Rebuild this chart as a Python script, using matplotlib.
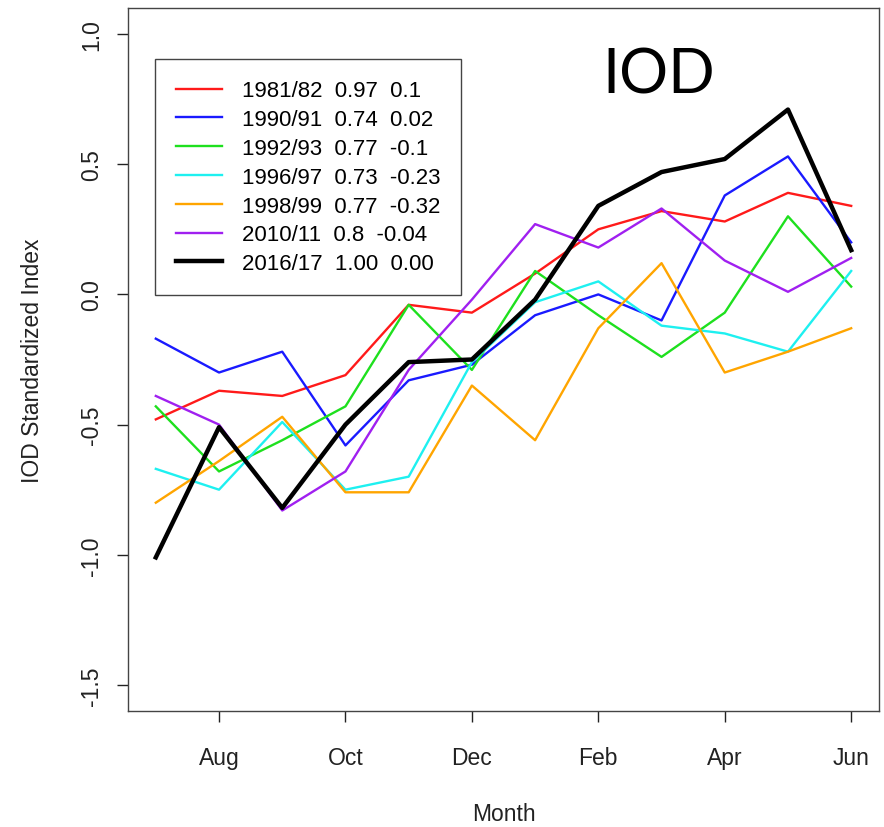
import matplotlib
matplotlib.use("Agg")
import matplotlib.pyplot as plt
import numpy as np

months = ["Jul", "Aug", "Sep", "Oct", "Nov", "Dec",
          "Jan", "Feb", "Mar", "Apr", "May", "Jun"]
tick_months = ["Aug", "Oct", "Dec", "Feb", "Apr", "Jun"]
y_ticks = [-1.5, -1.0, -0.5, 0.0, 0.5, 1.0]

labels = ["1981/82  0.97  0.1", "1990/91  0.74  0.02", "1992/93  0.77  -0.1",
          "1996/97  0.73  -0.23", "1998/99  0.77  -0.32", "2010/11  0.8  -0.04",
          "2016/17  1.00  0.00"]

iod_8182 = [-0.48, -0.37, -0.39, -0.31, -0.04, -0.07, 0.08, 0.25, 0.32, 0.28, 0.39, 0.34]
iod_9091 = [-0.17, -0.30, -0.22, -0.58, -0.33, -0.27, -0.08, 0.00, -0.10, 0.38, 0.53, 0.20]
iod_9293 = [-0.43, -0.68, -0.56, -0.43, -0.04, -0.29, 0.09, -0.08, -0.24, -0.07, 0.30, 0.03]
iod_9697 = [-0.67, -0.75, -0.49, -0.75, -0.70, -0.26, -0.03, 0.05, -0.12, -0.15, -0.22, 0.09]
iod_9899 = [-0.80, -0.64, -0.47, -0.76, -0.76, -0.35, -0.56, -0.13, 0.12, -0.30, -0.22, -0.13]
iod_1011 = [-0.39, -0.50, -0.83, -0.68, -0.29, -0.02, 0.27, 0.18, 0.33, 0.13, 0.01, 0.14]
iod_1617 = [-1.01, -0.51, -0.82, -0.50, -0.26, -0.25, -0.02, 0.34, 0.47, 0.52, 0.71, 0.17]

series = [iod_8182, iod_9091, iod_9293, iod_9697, iod_9899, iod_1011, iod_1617]
colors = ["#ff1a1a", "#1a1aff", "#1ee01e", "#1ef0f0", "#ffa500", "#a020f0", "black"]
widths = [1.7, 1.7, 1.7, 1.7, 1.7, 1.7, 3.2]

plt.rcParams["font.family"] = ["Liberation Sans", "DejaVu Sans"]
FS = 16.5
LEG_FS = 16

fig = plt.figure(figsize=(8.84, 8.28), dpi=100)
ax = fig.add_axes([128 / 884, 116 / 828, 751 / 884, 703 / 828])

x = np.arange(1, len(months) + 1)
for vals, lab, col, lw in zip(series, labels, colors, widths):
    ax.plot(x, vals, color=col, linewidth=lw, label=lab)

ax.set_xlim(1 - 0.44, 12 + 0.44)
ax.set_ylim(-1.6, 1.1)
ax.set_xticks([months.index(m) + 1 for m in tick_months])
ax.set_xticklabels(tick_months, fontsize=FS, color="#222222")
ax.set_yticks(y_ticks)
ax.set_yticklabels([f"{v:.1f}" for v in y_ticks], fontsize=FS, rotation=90,
                   va="center", color="#222222")
ax.tick_params(direction="out", length=8, width=1, colors="#222222")
ax.tick_params(axis="x", pad=17)
ax.tick_params(axis="y", pad=10)
for s in ax.spines.values():
    s.set_color("#444444")
    s.set_linewidth(1)

ax.set_xlabel("Month", fontsize=FS, labelpad=24, color="#222222")
ax.set_ylabel("IOD Standardized Index", fontsize=FS, labelpad=26, color="#222222")

leg = ax.legend(loc="upper left", bbox_to_anchor=(0.036, 0.927), borderaxespad=0,
                fontsize=LEG_FS, handlelength=2.05, handletextpad=0.9,
                labelspacing=0.35, borderpad=0.95, fancybox=False, framealpha=1)
leg.get_frame().set_edgecolor("#444444")
leg.get_frame().set_linewidth(1)

ax.text(0.707, 0.905, "IOD", transform=ax.transAxes, ha="center", va="center",
        fontsize=44, family=["Lato", "DejaVu Sans"])

fig.savefig("out.png", dpi=100)
